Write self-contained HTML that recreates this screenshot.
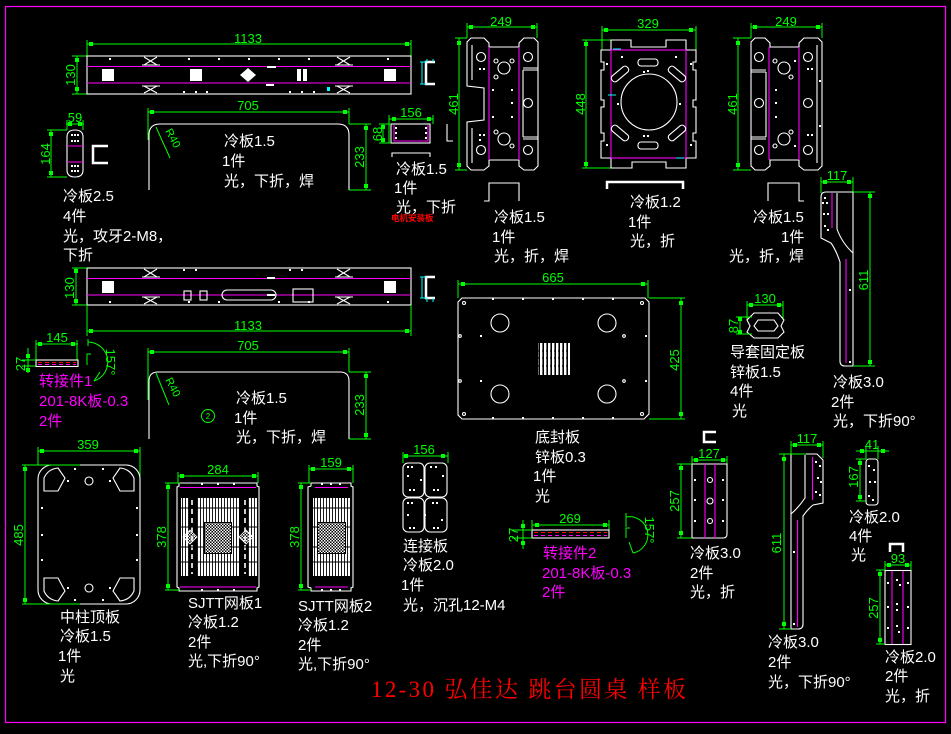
<!DOCTYPE html>
<html><head><meta charset="utf-8">
<style>
html,body{margin:0;padding:0;background:#000;width:951px;height:734px;overflow:hidden}
svg{display:block}
.g{stroke:#0f0;fill:none;stroke-width:1}
.w{stroke:#fff;fill:none;stroke-width:1.1}
.w2{stroke:#fff;fill:none;stroke-width:2.5}
.m{stroke:#f0f;fill:none;stroke-width:1.1}
.c{stroke:#0ff;fill:none;stroke-width:1}
.wf{fill:#fff}
text{font-family:"Liberation Sans","Noto Sans CJK SC",sans-serif}
.t{fill:#fff;font-size:15px}
.mt{fill:#f0f;font-size:15px}
.d{fill:#0f0;font-size:13px}
</style></head><body>
<svg width="951" height="734" viewBox="0 0 951 734" xmlns="http://www.w3.org/2000/svg">
<defs>
<rect id="sq" x="-2" y="-2" width="4" height="4" fill="#0f0"/>
<rect id="dt" x="-1" y="-1" width="2" height="2" fill="#fff"/>
<pattern id="vb" width="3" height="20" patternUnits="userSpaceOnUse"><rect width="2.1" height="20" fill="#fff"/></pattern>
<pattern id="vb2" width="4" height="10" patternUnits="userSpaceOnUse"><rect width="2.4" height="10" fill="#fff"/></pattern>
<pattern id="ck" width="3" height="3" patternUnits="userSpaceOnUse"><rect width="1.5" height="1.5" fill="#fff"/><rect x="1.5" y="1.5" width="1.5" height="1.5" fill="#fff"/></pattern>
</defs>
<rect x="0" y="0" width="951" height="734" fill="#000"/>
<rect x="5.5" y="6.5" width="940" height="716" fill="none" stroke="#f0f" stroke-width="1.2"/>

<!-- ===== Part A top long bar ===== -->
<path class="g" d="M87,44H411M87,40V56M411,40V56"/>
<use href="#sq" x="91" y="44"/><use href="#sq" x="407" y="44"/>
<text class="d" x="248" y="43" text-anchor="middle">1133</text>
<path class="g" d="M77,56V94M72,56H87M72,94H87"/>
<use href="#sq" x="77" y="60"/><use href="#sq" x="77" y="89"/>
<text class="d" transform="translate(75,75) rotate(-90)" text-anchor="middle">130</text>
<rect class="w" x="87" y="56" width="324" height="38"/>
<path class="m" d="M87,66.5H411M87,83H411"/>
<rect class="wf" x="102" y="69" width="12" height="12"/><rect class="wf" x="190" y="69" width="12" height="12"/>
<rect class="wf" x="297" y="69" width="4" height="12"/><rect class="wf" x="303" y="69" width="4" height="12"/>
<rect class="wf" x="384" y="69" width="12" height="12"/>
<polygon class="wf" points="248,68 256,75 248,82 240,75"/>
<rect class="wf" x="267" y="66" width="9" height="2"/><rect class="wf" x="266" y="84" width="8" height="2"/>
<path class="w" d="M144,57L157,65M144,65L157,57M142,65H160M144,86L157,93M144,93L157,86M142,86H160M337,57L350,65M337,65L350,57M335,65H353M337,86L350,93M337,93L350,86M335,86H353"/>
<use href="#dt" x="110" y="59"/><use href="#dt" x="189" y="59"/><use href="#dt" x="219" y="59"/><use href="#dt" x="249" y="59"/><use href="#dt" x="279" y="59"/><use href="#dt" x="309" y="59"/><use href="#dt" x="388" y="59"/>
<use href="#dt" x="184" y="92"/><use href="#dt" x="196" y="92"/><use href="#dt" x="207" y="92"/><use href="#dt" x="290" y="92"/><use href="#dt" x="302" y="92"/><use href="#dt" x="314" y="92"/>
<rect x="327" y="87" width="3" height="4" fill="#0ff"/>
<path class="w2" d="M435,62H426V84H435" stroke-width="2"/>
<path class="c" d="M422,62V84M420,62H426M420,84H426M427,59V62M433,59V62"/>

<!-- ===== Part B 705 ===== -->
<path class="g" d="M148,112H349M148,108V140M349,108V124"/>
<use href="#sq" x="152" y="112"/><use href="#sq" x="345" y="112"/>
<text class="d" x="248" y="110" text-anchor="middle">705</text>
<path class="w" stroke-width="1.6" d="M149,190V135Q149,124 160,124H338Q349,124 349,135V190"/>
<path class="g" d="M366,124V190M349,124H371M349,190H371M156,127L170,158"/>
<use href="#sq" x="366" y="128"/><use href="#sq" x="366" y="186"/>
<text class="d" transform="translate(364,157) rotate(-90)" text-anchor="middle">233</text>
<text class="d" style="font-size:11px" transform="translate(165,131) rotate(62)">R40</text>
<text class="t" x="224" y="146">冷板1.5</text>
<text class="t" x="222" y="166">1件</text>
<text class="t" x="224" y="186">光，下折，焊</text>

<!-- ===== Part C 59x164 ===== -->
<path class="g" d="M66,124H84M67,120V130M83,120V130"/>
<use href="#sq" x="70" y="124"/><use href="#sq" x="80" y="124"/>
<text class="d" x="75" y="122" text-anchor="middle">59</text>
<path class="w" d="M67,137Q67,130 75,130Q83,130 83,137V170Q83,177 75,177Q67,177 67,170Z"/>
<path class="m" d="M67,146H83M67,162H83"/>
<use href="#dt" x="72" y="135"/><use href="#dt" x="75" y="135"/><use href="#dt" x="78" y="135"/><use href="#dt" x="72" y="141"/><use href="#dt" x="75" y="141"/><use href="#dt" x="78" y="141"/>
<use href="#dt" x="72" y="166"/><use href="#dt" x="75" y="166"/><use href="#dt" x="78" y="166"/><use href="#dt" x="72" y="171"/><use href="#dt" x="75" y="171"/><use href="#dt" x="78" y="171"/>
<path class="g" d="M51,130V177M47,130H67M47,177H67"/>
<use href="#sq" x="51" y="134"/><use href="#sq" x="51" y="173"/>
<text class="d" transform="translate(50,154) rotate(-90)" text-anchor="middle">164</text>
<path class="w2" d="M108,146H93V163H108"/>
<text class="t" x="63" y="201">冷板2.5</text>
<text class="t" x="63" y="221">4件</text>
<text class="t" x="63" y="241">光，攻牙2-M8，</text>
<text class="t" x="63" y="260">下折</text>

<!-- ===== Part D 156 ===== -->
<path class="g" d="M389,119H433M389,115V143M433,115V124"/>
<use href="#sq" x="394" y="119"/><use href="#sq" x="429" y="119"/>
<text class="d" x="411" y="117" text-anchor="middle">156</text>
<rect class="w" x="391" y="124" width="39" height="19"/>
<path class="m" d="M394,125V141H428V125"/>
<use href="#dt" x="396" y="128"/><use href="#dt" x="396" y="133"/><use href="#dt" x="396" y="138"/><use href="#dt" x="426" y="128"/><use href="#dt" x="426" y="133"/><use href="#dt" x="426" y="138"/>
<path class="g" d="M383,124V143M379,124H391M379,143H391"/>
<use href="#sq" x="383" y="127"/><use href="#sq" x="383" y="140"/>
<text class="d" transform="translate(382,134) rotate(-90)" text-anchor="middle">68</text>
<path class="w" d="M447,124V141H453"/>
<path class="w" d="M392,157V153H430V157"/>
<text class="t" x="396" y="174">冷板1.5</text>
<text class="t" x="394" y="193">1件</text>
<text class="t" x="396" y="212">光，下折</text>
<text x="391" y="221" fill="#f00" style="font-size:8.5px;font-weight:bold">电机安装板</text>

<!-- ===== Part E 249x461 left ===== -->
<path class="g" d="M467,27H537M467,23V38M537,23V38"/>
<use href="#sq" x="471" y="27"/><use href="#sq" x="533" y="27"/>
<text class="d" x="501" y="26" text-anchor="middle">249</text>
<path class="g" d="M459,38V170M455,38H467M455,170H467"/>
<use href="#sq" x="459" y="43"/><use href="#sq" x="459" y="165"/>
<text class="d" transform="translate(458,104) rotate(-90)" text-anchor="middle">461</text>
<path class="w" d="M471,38H484L489,43V47H519V43L524,38H534L538,42V166L534,170H524L519,166V160H489V166L484,170H471L467,166V122L484,120V88L467,86V42Z"/>
<path class="w" d="M523,68H538M523,70H538M523,70V137M523,137H538M523,139H538M472,45V80M472,128V163"/>
<path class="m" d="M489,47V160M519,47V160"/>
<circle class="w" cx="481" cy="57" r="4.5"/><circle class="w" cx="528" cy="57" r="4.5"/><circle class="w" cx="528" cy="103" r="4.5"/><circle class="w" cx="481" cy="150" r="4.5"/><circle class="w" cx="528" cy="150" r="4.5"/>
<circle class="w" cx="504" cy="68" r="6"/><circle class="w" cx="504" cy="139" r="6"/>
<circle class="w" cx="496" cy="61" r="2"/><circle class="w" cx="512" cy="61" r="2"/><circle class="w" cx="496" cy="77" r="2"/><circle class="w" cx="512" cy="146" r="2"/><circle class="w" cx="496" cy="132" r="2"/>
<use href="#dt" x="512" y="90"/><use href="#dt" x="512" y="103"/><use href="#dt" x="512" y="117"/><use href="#dt" x="493" y="90"/><use href="#dt" x="493" y="117"/><use href="#dt" x="480" y="69"/><use href="#dt" x="484" y="69"/><use href="#dt" x="480" y="135"/><use href="#dt" x="484" y="135"/><use href="#dt" x="480" y="140"/>
<path class="w" d="M484,201H489V183H519V201"/>
<text class="t" x="494" y="222">冷板1.5</text>
<text class="t" x="492" y="242">1件</text>
<text class="t" x="494" y="261">光，折，焊</text>

<!-- ===== Part F 329x448 ===== -->
<path class="g" d="M602,30H696M602,26V50M696,26V50"/>
<use href="#sq" x="606" y="30"/><use href="#sq" x="691" y="30"/>
<text class="d" x="648" y="28" text-anchor="middle">329</text>
<path class="g" d="M586,40V168M582,40H611M582,168H617"/>
<use href="#sq" x="586" y="44"/><use href="#sq" x="586" y="164"/>
<text class="d" transform="translate(585,104) rotate(-90)" text-anchor="middle">448</text>
<path class="w" d="M611,40H631V47H666V40H686V50H696V62H693V70H696V100H693V107H696V133H693V141H696V158H686V168H666V162H632V168H611V158H601V141H604V133H601V107H604V100H601V70H604V62H601V50H611Z"/>
<rect class="m" x="611" y="50" width="75" height="108"/>
<path class="c" d="M613,49H621M608,95H616M676,158H684" stroke-width="2"/>
<circle class="w" cx="649" cy="102" r="28"/>
<rect class="w" x="638" y="59" width="20" height="7" rx="3"/>
<rect class="w" x="638" y="142" width="20" height="7" rx="3"/>
<rect class="w" x="-10" y="-3.5" width="20" height="7" rx="3" transform="translate(620,74) rotate(-40)"/>
<rect class="w" x="-10" y="-3.5" width="20" height="7" rx="3" transform="translate(677,74) rotate(40)"/>
<rect class="w" x="-10" y="-3.5" width="20" height="7" rx="3" transform="translate(620,133) rotate(40)"/>
<rect class="w" x="-10" y="-3.5" width="20" height="7" rx="3" transform="translate(677,133) rotate(-40)"/>
<use href="#dt" x="622" y="57"/><use href="#dt" x="676" y="57"/><use href="#dt" x="648" y="71"/><use href="#dt" x="644" y="72"/><use href="#dt" x="648" y="136"/><use href="#dt" x="644" y="136"/><use href="#dt" x="618" y="104"/><use href="#dt" x="680" y="104"/><use href="#dt" x="607" y="64"/><use href="#dt" x="691" y="64"/><use href="#dt" x="607" y="145"/><use href="#dt" x="691" y="145"/>
<path class="w2" d="M607,189V182H683V189"/>
<text class="t" x="630" y="207">冷板1.2</text>
<text class="t" x="628" y="227">1件</text>
<text class="t" x="630" y="246">光，折</text>

<!-- ===== Part G 249x461 right ===== -->
<path class="g" d="M751,27H822M751,23V38M822,23V38"/>
<use href="#sq" x="755" y="27"/><use href="#sq" x="818" y="27"/>
<text class="d" x="786" y="26" text-anchor="middle">249</text>
<path class="g" d="M738,38V170M733,38H751M733,170H751"/>
<use href="#sq" x="738" y="43"/><use href="#sq" x="738" y="165"/>
<text class="d" transform="translate(737,104) rotate(-90)" text-anchor="middle">461</text>
<path class="w" d="M755,38H765L770,43V47H799V43L804,38H818L822,42V166L818,170H804L799,166V160H770V166L765,170H755L751,166V42Z"/>
<path class="w" d="M751,70H766M751,72H766M766,72V137M751,137H766M751,139H766M817,45V163"/>
<path class="m" d="M769,47V160M799,47V160"/>
<circle class="w" cx="759" cy="57" r="4.5"/><circle class="w" cx="808" cy="57" r="4.5"/><circle class="w" cx="759" cy="103" r="4.5"/><circle class="w" cx="808" cy="103" r="4.5"/><circle class="w" cx="759" cy="150" r="4.5"/><circle class="w" cx="808" cy="150" r="4.5"/>
<circle class="w" cx="784" cy="68" r="6"/><circle class="w" cx="784" cy="139" r="6"/>
<circle class="w" cx="775" cy="61" r="2"/><circle class="w" cx="791" cy="77" r="2"/><circle class="w" cx="791" cy="132" r="2"/><circle class="w" cx="775" cy="146" r="2"/>
<use href="#dt" x="776" y="90"/><use href="#dt" x="776" y="103"/><use href="#dt" x="776" y="117"/><use href="#dt" x="795" y="61"/><use href="#dt" x="795" y="146"/><use href="#dt" x="808" y="69"/><use href="#dt" x="812" y="69"/><use href="#dt" x="808" y="135"/><use href="#dt" x="812" y="135"/><use href="#dt" x="820" y="81"/><use href="#dt" x="820" y="126"/>
<path class="w" d="M768,201V183H799V201H804"/>
<text class="t" x="753" y="222">冷板1.5</text>
<text class="t" x="781" y="242">1件</text>
<text class="t" x="729" y="261">光，折，焊</text>

<!-- ===== Part H 117x611 top right ===== -->
<path class="g" d="M821,182H853M821,177V193M853,177V265"/>
<use href="#sq" x="825" y="182"/><use href="#sq" x="849" y="182"/>
<text class="d" x="837" y="180" text-anchor="middle">117</text>
<path class="w" d="M826,192H853V366H845Q840,366 840,361V262Q836,250 831,243L821,238V197Q821,192 826,192Z"/>
<path class="w" d="M837,193V229Q842,243 853,253"/>
<path class="m" d="M832,193V228M846,259V363"/>
<use href="#dt" x="825" y="198"/><use href="#dt" x="823" y="203"/><use href="#dt" x="827" y="203"/><use href="#dt" x="824" y="214"/><use href="#dt" x="828" y="214"/><use href="#dt" x="825" y="226"/><use href="#dt" x="828" y="230"/><use href="#dt" x="850" y="290"/><use href="#dt" x="850" y="362"/>
<path class="g" d="M870,192V366M853,192H875M853,366H875"/>
<use href="#sq" x="870" y="196"/><use href="#sq" x="870" y="362"/>
<text class="d" transform="translate(868,280) rotate(-90)" text-anchor="middle">611</text>
<text class="t" x="833" y="387">冷板3.0</text>
<text class="t" x="831" y="407">2件</text>
<text class="t" x="833" y="426">光，下折90°</text>

<!-- ===== Part I second long bar ===== -->
<rect class="w" x="87" y="268" width="324" height="37"/>
<path class="m" d="M87,278.5H411M87,295H411"/>
<rect class="wf" x="102" y="281" width="12" height="12"/><rect class="wf" x="384" y="281" width="12" height="12"/>
<rect class="w" x="184" y="291" width="7" height="9"/><rect class="w" x="200" y="291" width="7" height="9"/>
<rect class="w" x="222" y="290" width="54" height="10" rx="5"/>
<rect class="w" x="293" y="289" width="20" height="13"/>
<rect class="wf" x="267" y="277" width="8" height="2"/><rect class="wf" x="267" y="294" width="8" height="2"/>
<path class="w" d="M144,269L157,277M144,277L157,269M142,277H160M144,297L157,304M144,304L157,297M142,297H160M337,269L350,277M337,277L350,269M335,277H353M337,297L350,304M337,304L350,297M335,297H353"/>
<use href="#dt" x="110" y="302"/><use href="#dt" x="189" y="302"/><use href="#dt" x="219" y="302"/><use href="#dt" x="279" y="302"/><use href="#dt" x="309" y="302"/><use href="#dt" x="388" y="302"/><use href="#dt" x="184" y="270"/><use href="#dt" x="196" y="270"/><use href="#dt" x="290" y="270"/><use href="#dt" x="302" y="270"/>
<path class="w2" d="M435,277H426V298H435" stroke-width="2"/>
<path class="c" d="M422,277V298M420,277H426M420,298H426M427,298V302M433,298V302"/>
<path class="g" d="M76,268V305M72,268H87M72,305H87"/>
<use href="#sq" x="76" y="271"/><use href="#sq" x="76" y="301"/>
<text class="d" transform="translate(74,288) rotate(-90)" text-anchor="middle">130</text>
<path class="g" d="M87,331H411M87,305V336M411,305V336"/>
<use href="#sq" x="91" y="331"/><use href="#sq" x="407" y="331"/>
<text class="d" x="248" y="330" text-anchor="middle">1133</text>

<!-- ===== Part J 转接件1 ===== -->
<path class="g" d="M36,344H78M36,340V360M77,340V360"/>
<use href="#sq" x="40" y="344"/><use href="#sq" x="73" y="344"/>
<text class="d" x="57" y="342" text-anchor="middle">145</text>
<rect class="w" x="36" y="360" width="42" height="6.5"/>
<path d="M38,362.5H76" stroke="#f00" stroke-dasharray="4,3"/>
<path d="M38,364.5H76" stroke="#f0f" stroke-dasharray="4,3"/>
<path class="g" d="M28,348V373M22,360H36M22,366H36"/>
<use href="#sq" x="28" y="356"/><use href="#sq" x="28" y="370"/>
<text class="d" transform="translate(25,364) rotate(-90)" text-anchor="middle">27</text>
<path class="g" d="M88,339V346M88,342A20,20 0 0 1 94,381M91,354H87V365M94,381L100,372"/>
<text class="d" transform="translate(106,362) rotate(90)" text-anchor="middle">157°</text>
<text class="mt" x="39" y="386">转接件1</text>
<text class="mt" x="39" y="406">201-8K板-0.3</text>
<text class="mt" x="39" y="426">2件</text>

<!-- ===== Part K 705 second ===== -->
<path class="g" d="M148,352H349M148,348V400M349,348V372"/>
<use href="#sq" x="152" y="352"/><use href="#sq" x="345" y="352"/>
<text class="d" x="248" y="350" text-anchor="middle">705</text>
<path class="w" stroke-width="1.6" d="M149,439V381Q149,372 158,372H340Q349,372 349,381V439"/>
<path class="g" d="M366,372V439M349,372H371M349,439H371M156,373L169,405"/>
<use href="#sq" x="366" y="376"/><use href="#sq" x="366" y="435"/>
<text class="d" transform="translate(364,405) rotate(-90)" text-anchor="middle">233</text>
<text class="d" style="font-size:11px" transform="translate(165,380) rotate(62)">R40</text>
<circle class="g" cx="208" cy="416" r="6.5"/>
<text class="d" x="208" y="419" text-anchor="middle" style="font-size:8px">2</text>
<text class="t" x="236" y="403">冷板1.5</text>
<text class="t" x="234" y="423">1件</text>
<text class="t" x="236" y="442">光，下折，焊</text>

<!-- ===== Part L 中柱顶板 ===== -->
<path class="g" d="M38,451H140M38,447V465M140,447V497"/>
<use href="#sq" x="42" y="451"/><use href="#sq" x="136" y="451"/>
<text class="d" x="88" y="449" text-anchor="middle">359</text>
<rect class="w" x="38" y="465" width="102" height="139" rx="14"/>
<path class="w" d="M44,491V478Q48,469 58,468L65,478L58,491ZM134,491V478Q130,469 120,468L113,478L120,491ZM44,578V591Q48,600 58,601L65,591L58,578ZM134,578V591Q130,600 120,601L113,591L120,578Z"/>
<circle class="w" cx="89" cy="481" r="4"/><circle class="w" cx="89" cy="588" r="4"/>
<use href="#dt" x="42" y="508"/><use href="#dt" x="42" y="535"/><use href="#dt" x="42" y="560"/><use href="#dt" x="137" y="508"/><use href="#dt" x="137" y="535"/><use href="#dt" x="137" y="560"/><use href="#dt" x="75" y="469"/><use href="#dt" x="103" y="469"/><use href="#dt" x="75" y="600"/><use href="#dt" x="103" y="600"/><use href="#dt" x="68" y="481"/><use href="#dt" x="110" y="481"/><use href="#dt" x="68" y="588"/><use href="#dt" x="110" y="588"/>
<path class="g" d="M25,465V604M22,465H80M22,604H80"/>
<use href="#sq" x="25" y="469"/><use href="#sq" x="25" y="600"/>
<text class="d" transform="translate(23,535) rotate(-90)" text-anchor="middle">485</text>
<text class="t" x="60" y="622">中柱顶板</text>
<text class="t" x="60" y="641">冷板1.5</text>
<text class="t" x="58" y="661">1件</text>
<text class="t" x="60" y="681">光</text>

<!-- ===== Part M SJTT网板1 ===== -->
<path class="g" d="M178,476H258M178,472V483M258,472V483"/>
<use href="#sq" x="182" y="476"/><use href="#sq" x="254" y="476"/>
<text class="d" x="218" y="474" text-anchor="middle">284</text>
<path class="w" d="M179,483H257V486L259,487V587L257,588V591H179V588L177,587V487L179,486Z"/>
<path class="m" d="M180,487.5H256M180,587H256"/>
<use href="#dt" x="202" y="484"/><use href="#dt" x="218" y="484"/><use href="#dt" x="234" y="484"/><use href="#dt" x="202" y="590"/><use href="#dt" x="218" y="590"/><use href="#dt" x="234" y="590"/>
<rect x="181" y="498" width="8" height="78" fill="url(#vb)"/>
<rect x="197" y="498" width="42" height="78" fill="url(#vb)"/>
<rect x="248" y="498" width="9" height="78" fill="url(#vb)"/>
<path d="M192,500V574M245,500V574" stroke="#fff" stroke-width="1.6" stroke-dasharray="5,4"/>
<path d="M180,508H257M180,527H257M180,547H257M180,562H257" stroke="#000" stroke-width="1"/>
<rect x="204" y="522" width="28" height="32" fill="#000"/>
<rect x="205" y="523" width="26" height="30" fill="url(#ck)"/>
<polygon points="190,530 197,537 190,544 183,537" fill="url(#ck)" stroke="#fff" stroke-width="0.8"/>
<polygon points="246,530 253,537 246,544 239,537" fill="url(#ck)" stroke="#fff" stroke-width="0.8"/>
<path class="g" d="M168,483V590M165,483H180M165,590H180"/>
<use href="#sq" x="168" y="487"/><use href="#sq" x="168" y="586"/>
<text class="d" transform="translate(166,537) rotate(-90)" text-anchor="middle">378</text>
<text class="t" x="188" y="608">SJTT网板1</text>
<text class="t" x="188" y="627">冷板1.2</text>
<text class="t" x="188" y="647">2件</text>
<text class="t" x="188" y="666">光,下折90°</text>

<!-- ===== Part N SJTT网板2 ===== -->
<path class="g" d="M309,469H353M309,465V483M353,465V483"/>
<use href="#sq" x="313" y="469"/><use href="#sq" x="349" y="469"/>
<text class="d" x="331" y="467" text-anchor="middle">159</text>
<path class="w" d="M311,483H351V486L353,487V587L351,588V591H311V588L308,587V487L311,486Z"/>
<path class="m" d="M315,487.5H348M315,587H348"/>
<use href="#dt" x="322" y="484"/><use href="#dt" x="331" y="484"/><use href="#dt" x="340" y="484"/><use href="#dt" x="322" y="590"/><use href="#dt" x="331" y="590"/><use href="#dt" x="340" y="590"/>
<rect x="313" y="498" width="37" height="78" fill="url(#vb)"/>
<path d="M312,508H351M312,527H351M312,547H351M312,562H351" stroke="#000" stroke-width="1"/>
<rect x="317" y="522" width="29" height="32" fill="#000"/>
<rect x="318" y="523" width="27" height="30" fill="url(#ck)"/>
<path class="g" d="M301,483V590M298,483H311M298,590H311"/>
<use href="#sq" x="301" y="487"/><use href="#sq" x="301" y="586"/>
<text class="d" transform="translate(299,537) rotate(-90)" text-anchor="middle">378</text>
<text class="t" x="298" y="611">SJTT网板2</text>
<text class="t" x="298" y="630">冷板1.2</text>
<text class="t" x="298" y="650">2件</text>
<text class="t" x="298" y="669">光,下折90°</text>

<!-- ===== Part O 连接板 ===== -->
<path class="g" d="M403,456H448M403,452V463M448,452V463"/>
<use href="#sq" x="406" y="456"/><use href="#sq" x="443" y="456"/>
<text class="d" x="424" y="454" text-anchor="middle">156</text>
<rect class="w" x="403" y="463" width="21" height="34" rx="5"/>
<rect class="w" x="425" y="463" width="22" height="34" rx="5"/>
<rect class="w" x="403" y="498" width="21" height="34" rx="5"/>
<rect class="w" x="425" y="498" width="22" height="34" rx="5"/>
<use href="#dt" x="408" y="467"/><use href="#dt" x="412" y="467"/><use href="#dt" x="431" y="467"/><use href="#dt" x="436" y="467"/><use href="#dt" x="408" y="476"/><use href="#dt" x="421" y="480"/><use href="#dt" x="443" y="476"/><use href="#dt" x="410" y="490"/><use href="#dt" x="414" y="490"/><use href="#dt" x="434" y="490"/><use href="#dt" x="438" y="490"/><use href="#dt" x="408" y="503"/><use href="#dt" x="412" y="503"/><use href="#dt" x="433" y="503"/><use href="#dt" x="437" y="503"/><use href="#dt" x="408" y="515"/><use href="#dt" x="425" y="515"/><use href="#dt" x="442" y="520"/><use href="#dt" x="410" y="528"/><use href="#dt" x="414" y="528"/><use href="#dt" x="434" y="528"/><use href="#dt" x="438" y="528"/>
<text class="t" x="403" y="551">连接板</text>
<text class="t" x="403" y="570">冷板2.0</text>
<text class="t" x="401" y="590">1件</text>
<text class="t" x="403" y="610">光，沉孔12-M4</text>

<!-- ===== Part P 底封板 ===== -->
<path class="g" d="M458,284H648M458,280V298M648,280V298"/>
<use href="#sq" x="463" y="284"/><use href="#sq" x="643" y="284"/>
<text class="d" x="553" y="282" text-anchor="middle">665</text>
<path class="w" d="M462,298H645L649,302V414L644,419H462L458,415V302Z"/>
<use href="#dt" x="493" y="299"/><use href="#dt" x="523" y="299"/><use href="#dt" x="553" y="299"/><use href="#dt" x="583" y="299"/><use href="#dt" x="613" y="299"/>
<use href="#dt" x="493" y="418"/><use href="#dt" x="523" y="418"/><use href="#dt" x="553" y="418"/><use href="#dt" x="583" y="418"/><use href="#dt" x="613" y="418"/>
<circle class="w" cx="464" cy="303" r="1.5"/><circle class="w" cx="642" cy="303" r="1.5"/><circle class="w" cx="464" cy="414" r="1.5"/><circle class="w" cx="642" cy="414" r="1.5"/>
<circle class="w" cx="460" cy="336" r="1.3"/><circle class="w" cx="624" cy="336" r="1.3"/><circle class="w" cx="460" cy="381" r="1.3"/><circle class="w" cx="624" cy="381" r="1.3"/>
<use href="#dt" x="481" y="336"/><use href="#dt" x="646" y="336"/><use href="#dt" x="481" y="381"/><use href="#dt" x="646" y="381"/>
<circle class="w" cx="500" cy="323" r="9"/><circle class="w" cx="607" cy="323" r="9"/><circle class="w" cx="500" cy="394" r="9"/><circle class="w" cx="607" cy="394" r="9"/>
<rect x="538" y="343" width="32" height="32" fill="url(#vb2)"/>
<path d="M538,351H570M538,358H570M538,366H570" stroke="#000" stroke-width="1" stroke-dasharray="1,3"/>
<path class="g" d="M681,298V419M649,298H685M649,419H685"/>
<use href="#sq" x="681" y="303"/><use href="#sq" x="681" y="414"/>
<text class="d" transform="translate(679,360) rotate(-90)" text-anchor="middle">425</text>
<text class="t" x="535" y="442">底封板</text>
<text class="t" x="535" y="462">锌板0.3</text>
<text class="t" x="533" y="481">1件</text>
<text class="t" x="535" y="501">光</text>

<!-- ===== Part Q 导套固定板 ===== -->
<path class="g" d="M747,305H783M747,301V320M783,301V320"/>
<use href="#sq" x="751" y="305"/><use href="#sq" x="779" y="305"/>
<text class="d" x="765" y="303" text-anchor="middle">130</text>
<polygon class="w" points="754,313 778,313 784,320 781,326 784,332 778,338 754,338 747,332 750,326 747,320"/>
<polygon class="w" points="758,320 774,320 778,326 774,331 758,331 754,326"/>
<path class="g" d="M740,317V334M736,317H752M736,334H752"/>
<use href="#sq" x="740" y="319"/><use href="#sq" x="740" y="332"/>
<text class="d" transform="translate(738,326) rotate(-90)" text-anchor="middle">87</text>
<text class="t" x="730" y="357">导套固定板</text>
<text class="t" x="730" y="377">锌板1.5</text>
<text class="t" x="730" y="396">4件</text>
<text class="t" x="732" y="416">光</text>

<!-- ===== 转接件2 ===== -->
<path class="g" d="M532,525H609M532,520V530M609,520V530"/>
<use href="#sq" x="537" y="525"/><use href="#sq" x="605" y="525"/>
<text class="d" x="570" y="523" text-anchor="middle">269</text>
<rect class="w" x="532" y="530" width="77" height="8"/>
<path d="M534,532.5H607" stroke="#f00" stroke-dasharray="4,3"/>
<path d="M534,535.5H607" stroke="#f0f" stroke-dasharray="4,3"/>
<path class="g" d="M523,520V549M512,530H532M512,538H532"/>
<use href="#sq" x="523" y="526"/><use href="#sq" x="523" y="543"/>
<text class="d" transform="translate(518,535) rotate(-90)" text-anchor="middle">27</text>
<path class="g" d="M626,513V527M626,517A18,18 0 0 1 633,553M630,528H626V538M633,553L629,542"/>
<text class="d" transform="translate(645,530) rotate(90)" text-anchor="middle">157°</text>
<text class="mt" x="543" y="558">转接件2</text>
<text class="mt" x="542" y="578">201-8K板-0.3</text>
<text class="mt" x="542" y="597">2件</text>

<!-- ===== Part R 127x257 ===== -->
<path class="w2" d="M716,432H704V442H716"/>
<path class="g" d="M692,460H727M692,456V464M727,456V464"/>
<use href="#sq" x="696" y="460"/><use href="#sq" x="723" y="460"/>
<text class="d" x="709" y="458" text-anchor="middle">127</text>
<path class="w" d="M692,464H727V534Q727,538 723,538H692Z"/>
<path class="m" d="M705,464V538M715,464V538"/>
<use href="#dt" x="695" y="480"/><use href="#dt" x="695" y="500"/><use href="#dt" x="695" y="521"/><use href="#dt" x="723" y="480"/><use href="#dt" x="723" y="500"/><use href="#dt" x="723" y="521"/>
<circle class="w" cx="710" cy="480" r="2.5"/><circle class="w" cx="710" cy="501" r="3"/><circle class="w" cx="710" cy="521" r="2.5"/>
<path class="g" d="M681,464V538M677,464H692M677,538H692"/>
<use href="#sq" x="681" y="468"/><use href="#sq" x="681" y="533"/>
<text class="d" transform="translate(679,501) rotate(-90)" text-anchor="middle">257</text>
<text class="t" x="690" y="558">冷板3.0</text>
<text class="t" x="690" y="578">2件</text>
<text class="t" x="690" y="597">光，折</text>

<!-- ===== Part S 117x611 bottom ===== -->
<path class="g" d="M791,445H823M791,441V500M823,441V458"/>
<use href="#sq" x="795" y="445"/><use href="#sq" x="819" y="445"/>
<text class="d" x="807" y="443" text-anchor="middle">117</text>
<path class="w" d="M791,454H817L823,460V503L813,505Q808,509 803,516V624Q803,629 798,629H791Z"/>
<path class="w" d="M805,455V498Q799,507 791,514"/>
<path class="m" d="M812.5,457V500M797.5,520V627"/>
<use href="#dt" x="816" y="462"/><use href="#dt" x="820" y="466"/><use href="#dt" x="818" y="478"/><use href="#dt" x="821" y="482"/><use href="#dt" x="816" y="492"/><use href="#dt" x="820" y="495"/><use href="#dt" x="794" y="552"/><use href="#dt" x="794" y="624"/>
<path class="g" d="M784,454V629M779,454H806M779,629H791"/>
<use href="#sq" x="784" y="459"/><use href="#sq" x="784" y="624"/>
<text class="d" transform="translate(781,543) rotate(-90)" text-anchor="middle">611</text>
<text class="t" x="768" y="647">冷板3.0</text>
<text class="t" x="768" y="667">2件</text>
<text class="t" x="768" y="687">光，下折90°</text>

<!-- ===== Part T 41x167 ===== -->
<path class="g" d="M856,451H889M866,446V459M878,446V459"/>
<use href="#sq" x="862" y="451"/><use href="#sq" x="883" y="451"/>
<text class="d" x="872" y="449" text-anchor="middle">41</text>
<rect class="w" x="866" y="459" width="12" height="46" rx="3"/>
<use href="#dt" x="869" y="466"/><use href="#dt" x="874" y="470"/><use href="#dt" x="870" y="482"/><use href="#dt" x="875" y="482"/><use href="#dt" x="869" y="496"/><use href="#dt" x="873" y="500"/>
<path class="g" d="M860,459V501M856,459H866M856,501H866"/>
<use href="#sq" x="860" y="463"/><use href="#sq" x="860" y="497"/>
<text class="d" transform="translate(858,477) rotate(-90)" text-anchor="middle">167</text>
<text class="t" x="849" y="522">冷板2.0</text>
<text class="t" x="849" y="541">4件</text>
<text class="t" x="851" y="560">光</text>

<!-- ===== Part U 93x257 ===== -->
<path class="w2" d="M890,552V544H903V552"/>
<path class="g" d="M885,565H911M885,561V570M911,561V570"/>
<use href="#sq" x="889" y="565"/><use href="#sq" x="907" y="565"/>
<text class="d" x="898" y="563" text-anchor="middle">93</text>
<rect class="w" x="885" y="570.5" width="26" height="74"/>
<path class="m" d="M892,571V644M903,571V644"/>
<use href="#dt" x="888" y="583"/><use href="#dt" x="908" y="583"/><use href="#dt" x="888" y="607"/><use href="#dt" x="908" y="607"/><use href="#dt" x="888" y="628"/><use href="#dt" x="908" y="628"/><use href="#dt" x="897" y="580"/><use href="#dt" x="900" y="585"/><use href="#dt" x="897" y="604"/><use href="#dt" x="897" y="610"/><use href="#dt" x="897" y="626"/><use href="#dt" x="899" y="632"/>
<path class="g" d="M880,570V644M876,570H885M876,644H885"/>
<use href="#sq" x="880" y="574"/><use href="#sq" x="880" y="640"/>
<text class="d" transform="translate(878,608) rotate(-90)" text-anchor="middle">257</text>
<text class="t" x="885" y="662">冷板2.0</text>
<text class="t" x="885" y="681">2件</text>
<text class="t" x="885" y="701">光，折</text>

<!-- ===== Title ===== -->
<text x="371" y="697" fill="#f00" textLength="315" lengthAdjust="spacing" style="font-family:'Liberation Serif','Noto Serif CJK SC',serif;font-size:23px">12-30 弘佳达 跳台圆桌 样板</text>
</svg>
</body></html>
